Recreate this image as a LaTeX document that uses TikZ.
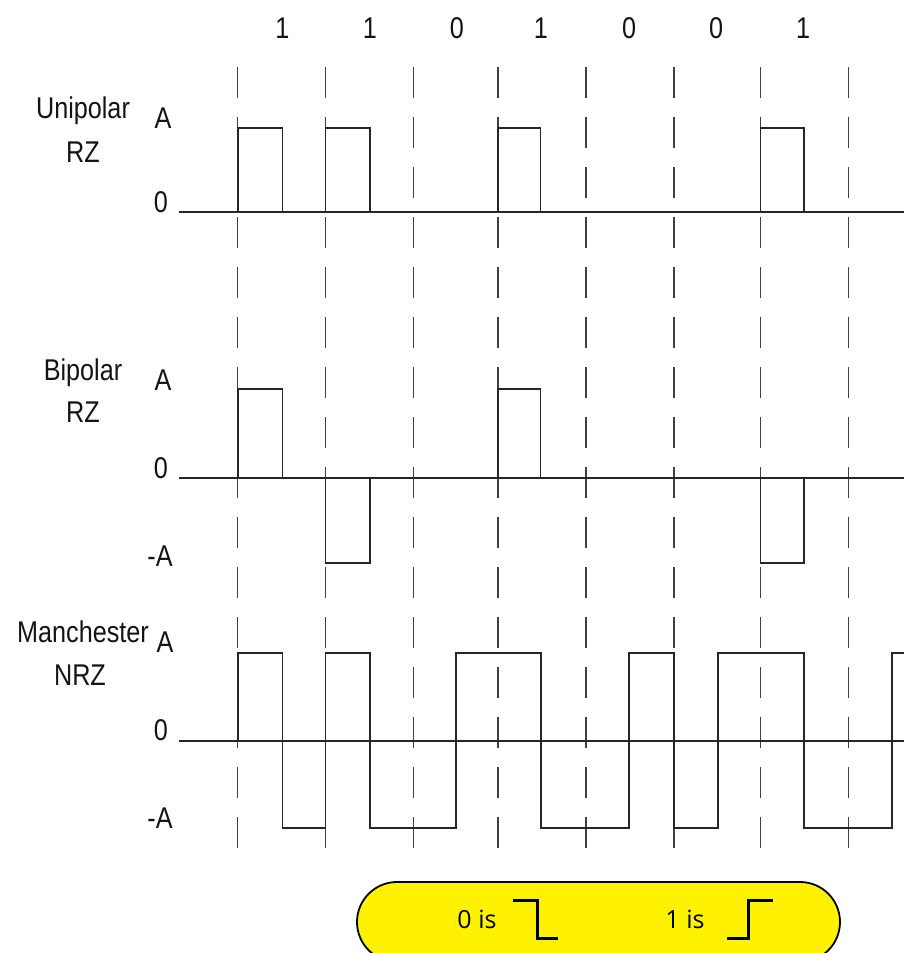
\documentclass[tikz,border=0pt]{standalone}
\usepackage{fontspec}
\setmainfont{Liberation Sans}[FakeStretch=0.84]
\newfontfamily\legendfont{Open Sans}
\usetikzlibrary{shapes.misc}
\begin{document}
\begin{tikzpicture}[x=1pt,y=-1pt,
  lbl/.style={anchor=base,inner sep=0pt,font=\fontsize{30}{30}\selectfont,text=black!92},
  leg/.style={anchor=base,inner sep=0pt,font=\legendfont\fontsize{25}{25}\selectfont,text=black},
  gridline/.style={draw=black!75,line width=1.5pt,dash pattern=on 31pt off 19pt},
  axis/.style={draw=black!85,line width=2.2pt},
  thinaxis/.style={draw=black!85,line width=1.6pt},
  wave/.style={draw=black!85,line width=1.8pt,line join=miter},
  stepsym/.style={draw=black,line width=3pt,line join=miter},
  legendbox/.style={rounded rectangle,draw=black,fill=yellow,line width=1.8pt,
    minimum width=483pt,minimum height=80pt,inner sep=0pt}
]
\useasboundingbox (0,0) rectangle (904,953);

% clock boundaries
\foreach \x in {237.7,325.5,413.5,498,586,674,760.5,848.7}
  \draw[gridline] (\x,67) -- (\x,848);

% bit labels
\foreach \b/\x [count=\i] in {1/282.5,1/370,0/457,1/541,0/629,0/716,1/803}
  \node[lbl] (bit\i) at (\x,38) {\b};

% ---------- Unipolar RZ ----------
\node[lbl] (uniname) at (83,118) {Unipolar};
\node[lbl] (unirz) at (83,162) {RZ};
\node[lbl] (uniA) at (163,128) {A};
\node[lbl] (uni0) at (161,212) {0};
\draw[axis] (179,211.7) -- (904,211.7);
\foreach \a/\c in {237.7/282.5,325.5/370,498/540.5,760.5/804}
  \draw[wave] (\a,211.7) -- (\a,128) -- (\c,128) -- (\c,211.7);

% ---------- Bipolar RZ ----------
\node[lbl] (biname) at (83,380) {Bipolar};
\node[lbl] (birz) at (83,422) {RZ};
\node[lbl] (biA) at (163,390) {A};
\node[lbl] (bi0) at (161,478) {0};
\node[lbl] (bimA) at (160,566) {-A};
\draw[axis] (179,478.3) -- (904,478.3);
\foreach \a/\c/\y in {237.7/282.5/389,325.5/370/563.3,498/540.5/389,760.5/804/563.3}
  \draw[wave] (\a,478.3) -- (\a,\y) -- (\c,\y) -- (\c,478.3);

% ---------- Manchester NRZ ----------
\node[lbl] (manname) at (83,642) {Manchester};
\node[lbl] (mannrz) at (80,685) {NRZ};
\node[lbl] (manA) at (165,652) {A};
\node[lbl] (man0) at (161,740) {0};
\node[lbl] (manmA) at (160,828) {-A};
\draw[thinaxis] (179,740.7) -- (904,740.7);
\draw[wave] (237.7,740.7) -- (237.7,652.7) -- (282.5,652.7) -- (282.5,828.3)
  -- (325.5,828.3) -- (325.5,652.7) -- (370,652.7) -- (370,828.3)
  -- (456,828.3) -- (456,652.7) -- (541,652.7) -- (541,828.3)
  -- (629.3,828.3) -- (629.3,652.7) -- (673.7,652.7) -- (673.7,828.3)
  -- (717.7,828.3) -- (717.7,652.7) -- (804.3,652.7) -- (804.3,828.3)
  -- (892,828.3) -- (892,652.7) -- (904,652.7);

% ---------- Legend ----------
\node[legendbox] (legend) at (598.5,922) {};
\node[leg] (zerois) at (477,928) {0 is};
\node[leg] (oneis) at (685,928) {1 is};
\draw[stepsym] (513,900.7) -- (537,900.7) -- (537,938) -- (558,938);
\draw[stepsym] (727,938) -- (748,938) -- (748,900.7) -- (773,900.7);
\end{tikzpicture}
\end{document}
